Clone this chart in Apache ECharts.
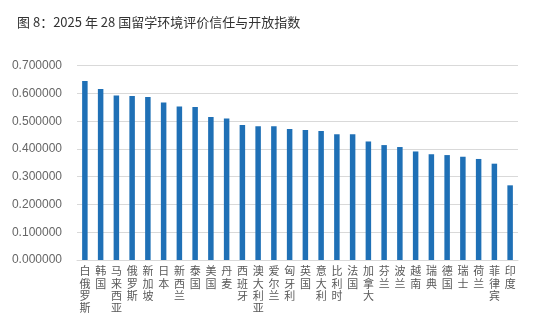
<!DOCTYPE html>
<html>
<head>
<meta charset="utf-8">
<script src="https://cdn.jsdelivr.net/npm/echarts@6/dist/echarts.min.js"></script>
<style>
html,body{margin:0;padding:0;background:#fff;}
#chart{width:541px;height:328px;}
</style>
</head>
<body>
<div id="chart"></div>
<script>
// 国家名称
const countries = ['白俄罗斯','韩国','马来西亚','俄罗斯','新加坡','日本','新西兰','泰国','美国','丹麦',
  '西班牙','澳大利亚','爱尔兰','匈牙利','英国','意大利','比利时','法国','加拿大','芬兰',
  '波兰','越南','瑞典','德国','瑞士','荷兰','菲律宾','印度'];
// 信任与开放指数
const indexValues = [0.645,0.616,0.593,0.591,0.587,0.567,0.553,0.551,0.515,0.510,
  0.486,0.482,0.482,0.472,0.468,0.465,0.453,0.453,0.427,0.414,
  0.407,0.391,0.381,0.378,0.372,0.364,0.347,0.269];
// 纵轴刻度
const yTicks = [0,0.1,0.2,0.3,0.4,0.5,0.6,0.7];

const chart = echarts.init(document.getElementById('chart'));
const font = '"Noto Sans CJK SC","Noto Sans",sans-serif';
chart.setOption({
  animation:false,
  title:{
    text:'图 8：2025 年 28 国留学环境评价信任与开放指数',
    left:12, top:11,
    textStyle:{fontFamily:font,fontSize:13,fontWeight:'normal',color:'#333'}
  },
  grid:{left:77,right:23,top:65.7,bottom:68},
  xAxis:{
    type:'category',
    data:countries,
    axisLine:{lineStyle:{color:'#d9d9d9',width:1}},
    axisTick:{show:false},
    axisLabel:{
      interval:0,
      margin:5,
      fontFamily:font,
      fontSize:11,
      lineHeight:12.3,
      color:'#595959',
      verticalAlign:'top',
      formatter:v=>v.split('').join('\n')
    }
  },
  yAxis:{
    type:'value',
    min:yTicks[0],
    max:yTicks[yTicks.length-1],
    interval:0.1,
    axisLine:{show:false},
    axisTick:{show:false},
    splitLine:{lineStyle:{color:'#d9d9d9',width:1}},
    axisLabel:{
      margin:15,
      fontFamily:'"Liberation Sans",Arial,sans-serif',
      fontSize:12,
      color:'#666',
      formatter:v=>v.toFixed(6)
    }
  },
  series:[{
    type:'bar',
    data:indexValues,
    barWidth:5.5,
    itemStyle:{color:'#1f70b6'}
  }]
});
</script>
</body>
</html>
